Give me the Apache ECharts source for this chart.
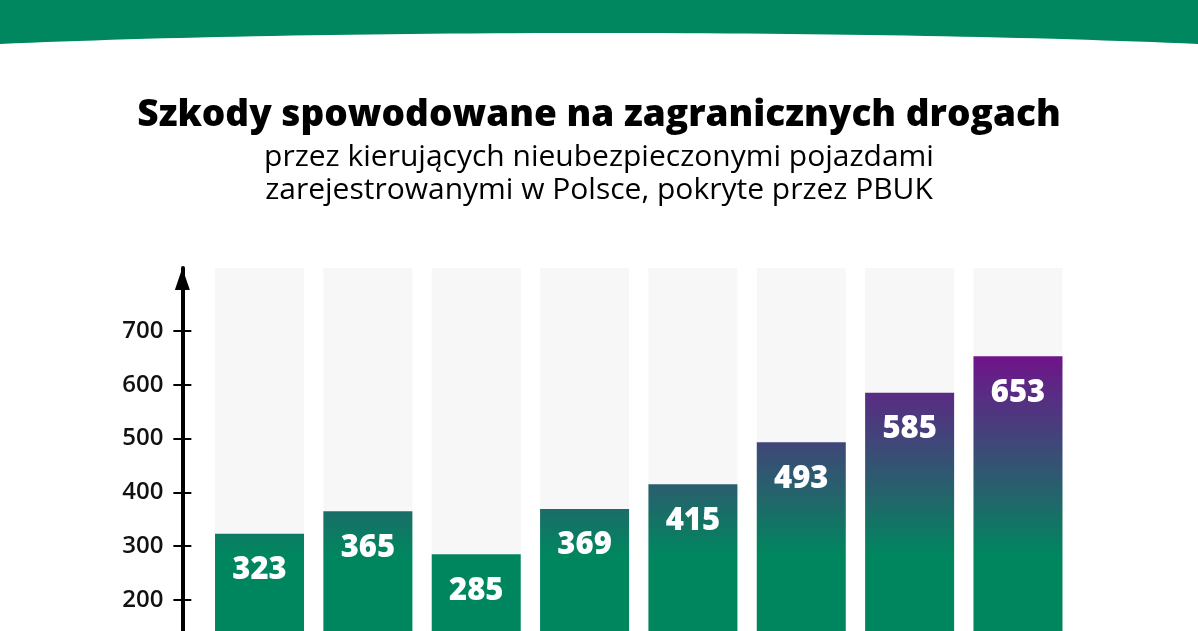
<!DOCTYPE html>
<html>
<head>
<meta charset="utf-8">
<script src="https://cdn.jsdelivr.net/npm/echarts@6/dist/echarts.min.js"></script>
<style>
html,body{margin:0;padding:0;background:#fff;}
#chart{width:1198px;height:631px;}
</style>
</head>
<body>
<div id="chart"></div>
<script>
const categories = ['2016','2017','2018','2019','2020','2021','2022','2023'];
const values = [323, 365, 285, 369, 415, 493, 585, 653];
const tickValues = [0, 100, 200, 300, 400, 500, 600, 700];
const axisMax = 817;

const chart = echarts.init(document.getElementById('chart'));
const font = '"Open Sans", "Noto Sans", sans-serif';

const barGradient = new echarts.graphic.LinearGradient(0, 352, 0, 555, [
  {offset: 0, color: '#72108a'},
  {offset: 0.2, color: '#5a2b84'},
  {offset: 0.46, color: '#3e4878'},
  {offset: 0.73, color: '#21676a'},
  {offset: 1, color: '#00865f'}
], true);

const yBase = {
  type: 'value',
  min: 0,
  max: axisMax,
  position: 'left',
  offset: 23,
  splitLine: {show: false}
};

chart.setOption({
  animation: false,
  backgroundColor: '#ffffff',
  title: {
    text: 'Szkody spowodowane na zagranicznych drogach',
    subtext: 'przez kierujących nieubezpieczonymi pojazdami\nzarejestrowanymi w Polsce, pokryte przez PBUK',
    left: 'center',
    top: 90,
    itemGap: 6,
    textStyle: {fontFamily: font, fontWeight: 800, fontSize: 37, lineHeight: 40, color: '#000'},
    subtextStyle: {fontFamily: font, fontWeight: 400, fontSize: 30, lineHeight: 33, color: '#000'}
  },
  graphic: [
    {type: 'rect', z: -10, shape: {x: 0, y: 0, width: 1198, height: 50}, style: {fill: '#00875f'}},
    {type: 'ellipse', z: -9, shape: {cx: 599, cy: 76, rx: 900, ry: 43}, style: {fill: '#ffffff'}}
  ],
  grid: {left: 205.35, right: 125.85, top: 268, bottom: -76.6, containLabel: false, outerBoundsMode: 'none'},
  xAxis: {
    type: 'category',
    data: categories,
    axisLine: {show: false},
    axisTick: {show: false},
    axisLabel: {show: false}
  },
  yAxis: [
    Object.assign({}, yBase, {
      axisLine: {show: true, lineStyle: {color: '#000', width: 4}, symbol: ['none', 'triangle'], symbolSize: [15, 22], symbolOffset: [0, -11]},
      axisTick: {show: true, length: 9, lineStyle: {color: '#000', width: 2}, customValues: tickValues},
      axisLabel: {show: true, margin: 19, fontFamily: font, fontWeight: 600, fontSize: 24, color: '#111', customValues: tickValues}
    }),
    Object.assign({}, yBase, {
      axisLine: {show: false},
      axisTick: {show: true, inside: true, length: 9, lineStyle: {color: '#000', width: 2}, customValues: tickValues},
      axisLabel: {show: false}
    })
  ],
  series: [{
    type: 'bar',
    yAxisIndex: 0,
    data: values,
    barWidth: 89,
    showBackground: true,
    backgroundStyle: {color: '#f7f7f7'},
    itemStyle: {color: barGradient},
    label: {
      show: true,
      position: 'insideTop',
      distance: 21,
      fontFamily: font,
      fontWeight: 800,
      fontSize: 31,
      lineHeight: 31,
      color: '#fff'
    }
  }]
});
</script>
</body>
</html>
